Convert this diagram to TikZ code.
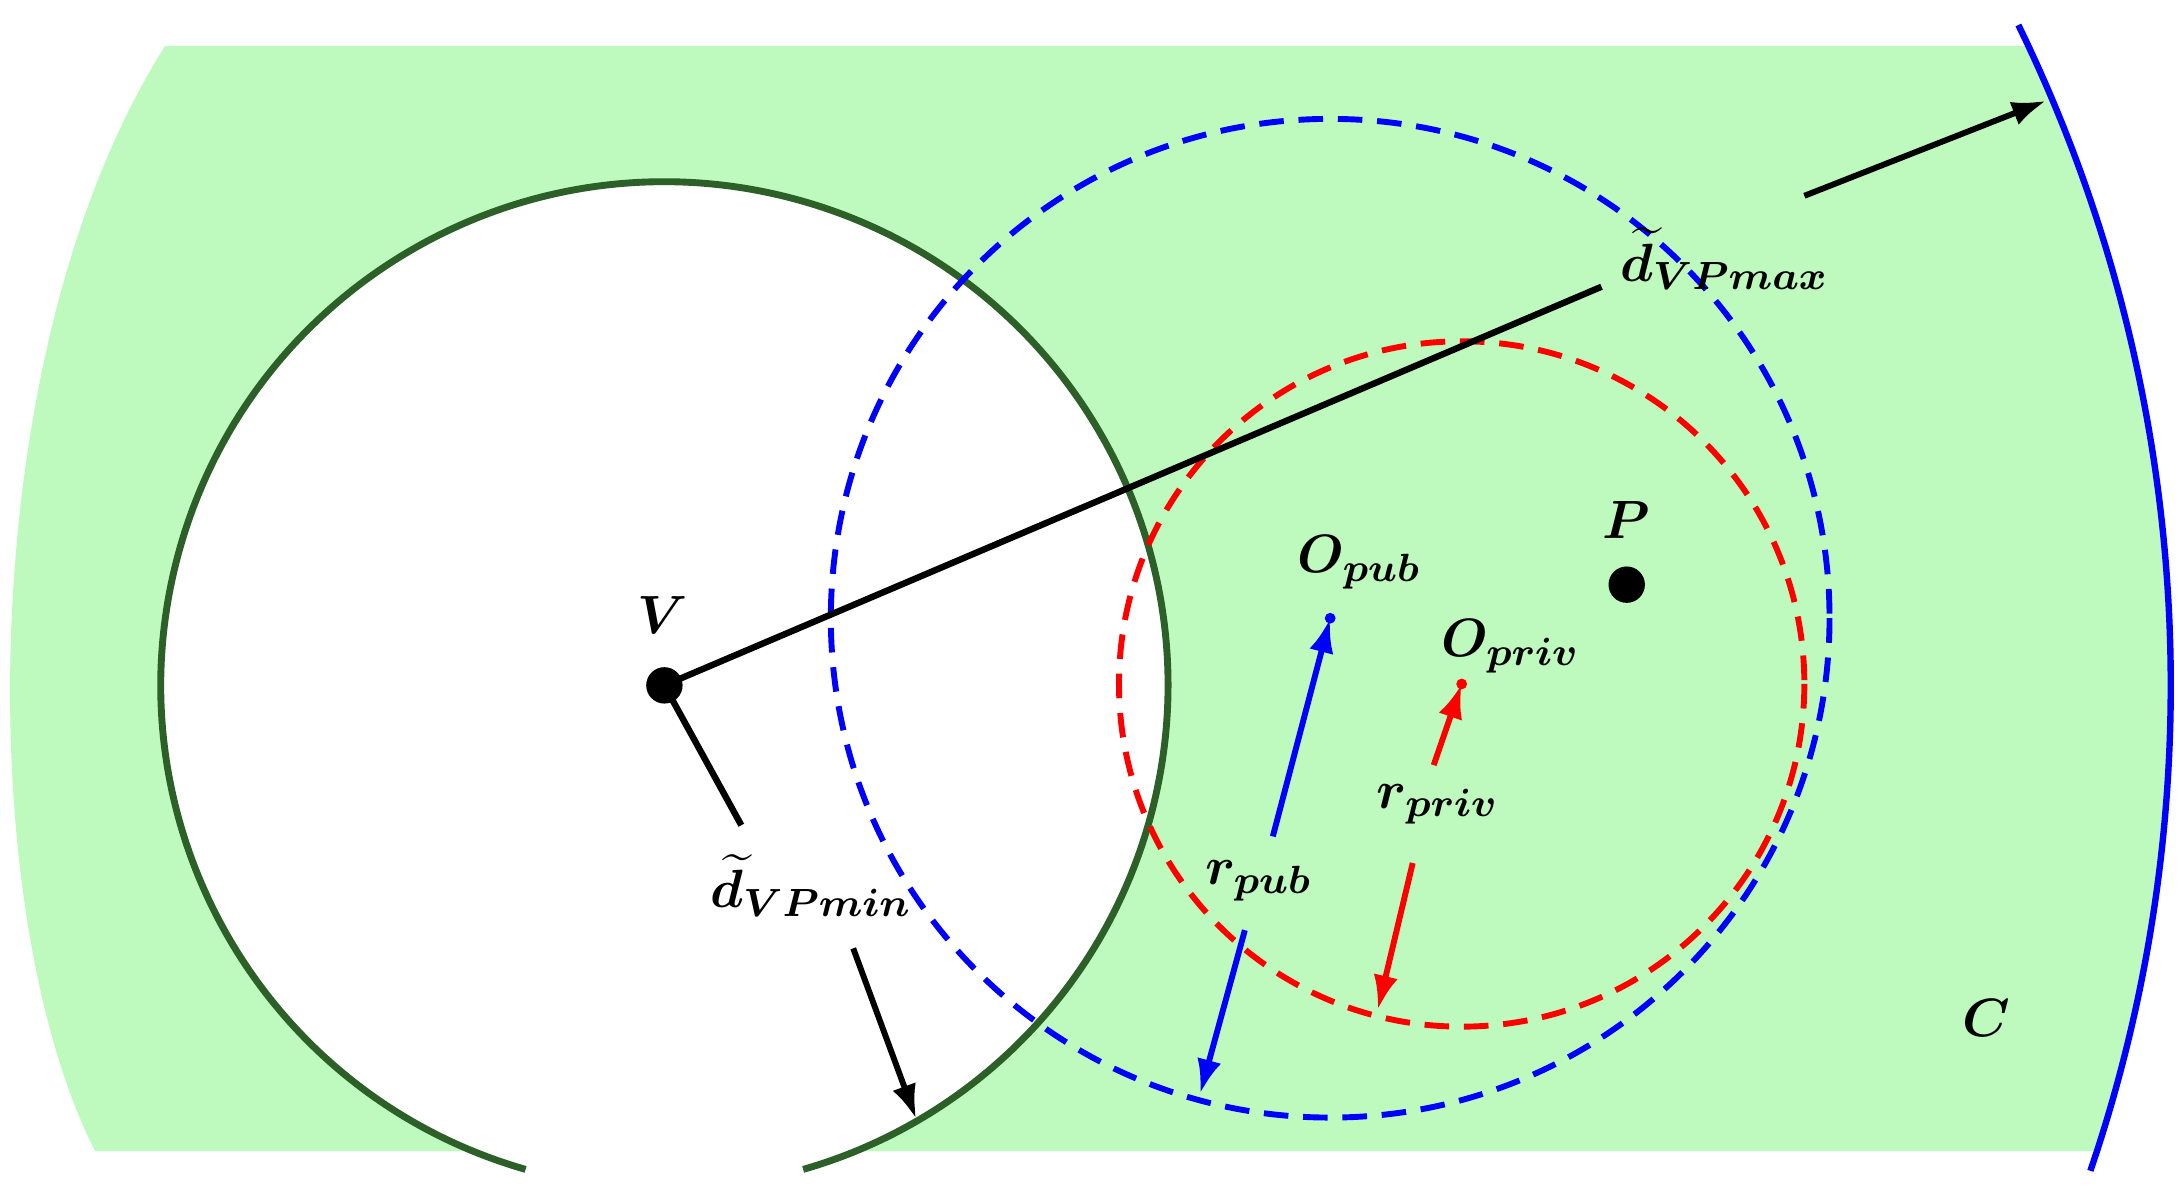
\documentclass[tikz,border=0pt]{standalone}
\usepackage{amsmath,bm}
\usetikzlibrary{arrows.meta}
\definecolor{lgreen}{RGB}{190,250,190}
\definecolor{dgreen}{RGB}{45,95,40}
\begin{document}
\begin{tikzpicture}[x=0.01cm,y=-0.01cm,
  lab/.style={font=\fontsize{11}{13}\selectfont},
  arr/.style={line width=1.2pt,-{Latex[length=7pt,width=5pt]}},
  dsh/.style={line width=1.2pt,dash pattern=on 5pt off 3pt},
  dot/.style={circle,fill=black,inner sep=0pt,minimum size=#1}]
\useasboundingbox (0,0) rectangle (1560,852);
\coordinate (V) at (475,490);
\begin{scope}
\clip (V) circle (1077);
\fill[lgreen] (118,33) .. controls (-20,250) and (-20,650) .. (68,823) -- (1600,823) -- (1600,33) -- cycle;
\end{scope}
\fill[white] (V) circle (360);
\draw[blue,line width=1.3pt] ([shift={(-26:1077)}]V) arc[start angle=-26,end angle=18.8,radius=1077];
\draw[dgreen,line width=1.4pt] ([shift={(106:360)}]V) arc[start angle=106,end angle=434,radius=360];
\coordinate (Opub) at (951,442);
\coordinate (Opriv) at (1045,489);
\draw[blue,dsh] (Opub) circle (357);
\draw[red,dsh] (Opriv) circle (245);
\node[dot=2.2pt,blue] (opd) at (Opub) {};
\node[dot=2.2pt,red] (oprd) at (Opriv) {};
\node[dot=7.4pt] (Vd) at (V) {};
\node[dot=7.4pt] (P) at (1163,418) {};
\node[lab] at (474,440) {$\bm{V}$};
\node[lab] at (1163,372) {$\bm{P}$};
\node[lab] at (972,402) {$\bm{O_{pub}}$};
\node[lab] at (1080,462) {$\bm{O_{priv}}$};
\node[lab] at (1420,728) {$\bm{C}$};
\node[lab] (dmax) at (1233,185) {$\bm{\widetilde{d}_{VPmax}}$};
\node[lab] (dmin) at (580,633) {$\bm{\widetilde{d}_{VPmin}}$};
\node[lab] (rpub) at (900,630) {$\bm{r_{pub}}$};
\node[lab] (rpriv) at (1028,575) {$\bm{r_{priv}}$};
\coordinate (maxA) at (1145,205);
\coordinate (maxB) at (1290,140);
\coordinate (maxE) at (1463,72);
\coordinate (minA) at (530,590);
\coordinate (minB) at (610,678);
\coordinate (minE) at (655,800);
\draw[line width=1.3pt] (Vd.center) -- (maxA);
\draw[arr] (maxB) -- (maxE);
\draw[line width=1.3pt] (Vd.center) -- (minA);
\draw[arr] (minB) -- (minE);
\draw[arr,blue] (910,598) -- (opd.center);
\draw[arr,blue] (890,665) -- (858,782);
\draw[arr,red] (1025,547) -- (oprd.center);
\draw[arr,red] (1010,617) -- (985,722);
\end{tikzpicture}
\end{document}
